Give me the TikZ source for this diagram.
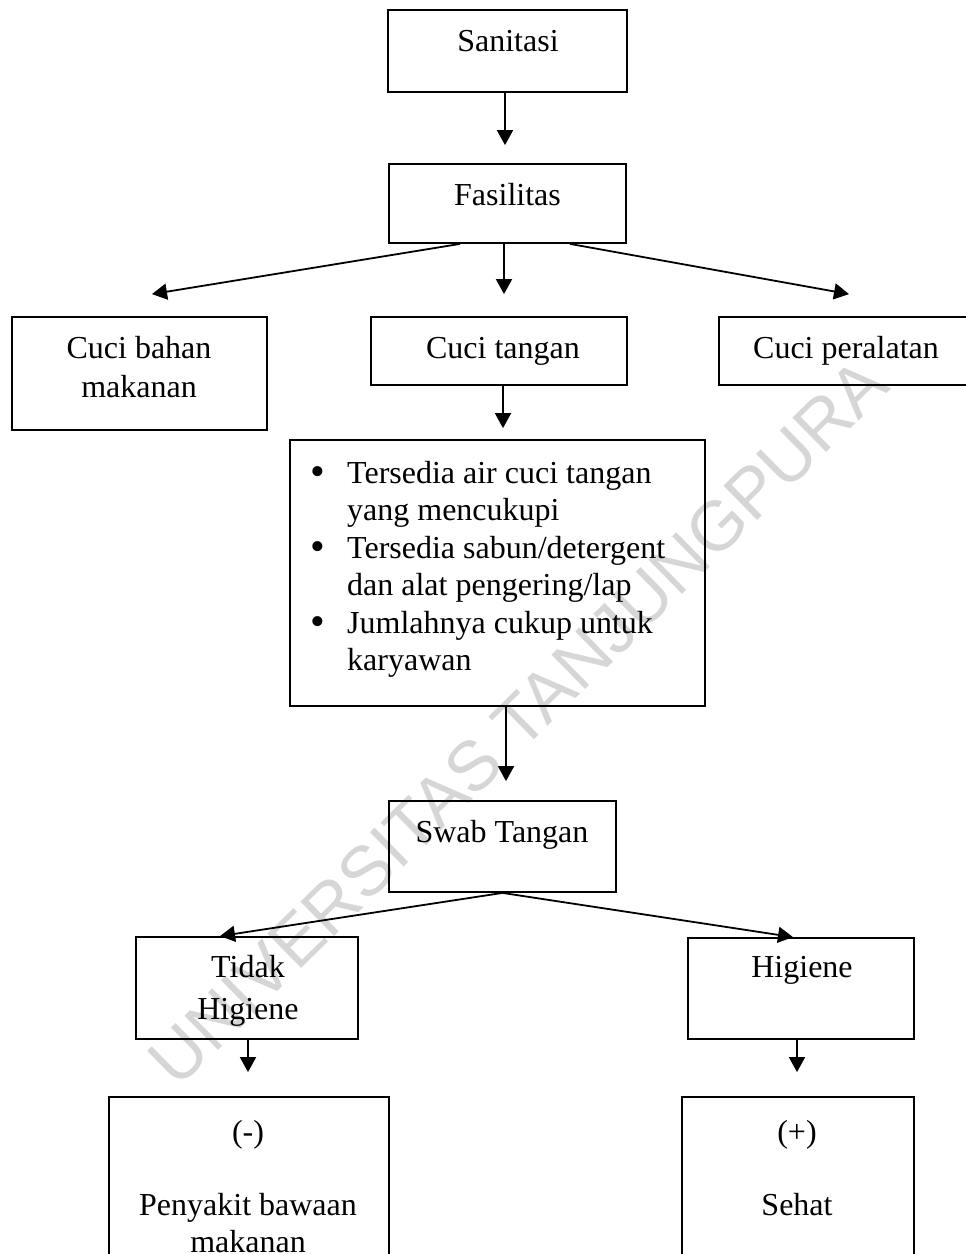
\documentclass[tikz,border=0pt]{standalone}
\usepackage{fontspec}
\setmainfont{Liberation Serif}
\newfontfamily\wmfont{Liberation Sans}
\usetikzlibrary{arrows.meta}

\tikzset{
	kotak/.style={draw, line width=1.8pt, inner sep=0pt},
	teks/.style={inner sep=0pt, font=\fontsize{32}{37.5}\selectfont},
	panah/.style={line width=1.8pt, -{Triangle[length=15pt, width=16pt]}},
	wmteks/.style={inner sep=0pt, text=black!16, font=\wmfont\fontsize{70}{70}\selectfont}
}
\newcommand{\butir}{\llap{\raisebox{-2.5pt}{\fontsize{42}{42}\selectfont\textbullet}\hspace{22pt}}}

\begin{document}
\begin{tikzpicture}[x=1pt, y=-1pt]
	\useasboundingbox (0,0) rectangle (966,1254);
	% watermark
	\node[wmteks, rotate=44.5] (wm) at (518,722) {UNIVERSITAS TANJUNGPURA};
	% kotak
	\node[kotak, minimum width=239pt, minimum height=82pt] (san) at (507.5,51) {};
	\node[kotak, minimum width=237pt, minimum height=79pt] (fas) at (507.5,203.5) {};
	\node[kotak, minimum width=255pt, minimum height=113pt] (bahan) at (139.5,373.5) {};
	\node[kotak, minimum width=256pt, minimum height=68pt] (tangan) at (499,351) {};
	\node[kotak, minimum width=256pt, minimum height=68pt] (alat) at (847,351) {};
	\node[kotak, minimum width=415pt, minimum height=266pt] (daftar) at (497.5,573) {};
	\node[kotak, minimum width=227pt, minimum height=91pt] (swab) at (502.5,846.5) {};
	\node[kotak, minimum width=222pt, minimum height=102pt] (tidak) at (247,988) {};
	\node[kotak, minimum width=226pt, minimum height=101pt] (hig) at (801,988.5) {};
	\node[kotak, minimum width=280pt, minimum height=193pt] (sakit) at (249,1193.5) {};
	\node[kotak, minimum width=232pt, minimum height=193pt] (sehat) at (798,1193.5) {};
	% teks
	\node[teks, anchor=base] (sanT) at (508,51) {Sanitasi};
	\node[teks, anchor=base] (fasT) at (507.5,205) {Fasilitas};
	\node[teks, anchor=north, align=center, font=\fontsize{32}{39}\selectfont] (bahanT) at (139,336) {Cuci bahan\\makanan};
	\node[teks, anchor=base] (tanganT) at (503,358) {Cuci tangan};
	\node[teks, anchor=base] (alatT) at (846,358) {Cuci peralatan};
	\node[teks, anchor=north west, align=left, font=\fontsize{32}{37.4}\selectfont] (daftarT) at (347,461)
		{\butir Tersedia air cuci tangan\\yang mencukupi\\\butir Tersedia sabun/detergent\\dan alat pengering/lap\\\butir Jumlahnya cukup untuk\\karyawan};
	\node[teks, anchor=base] (swabT) at (502,842) {Swab Tangan};
	\node[teks, anchor=north, align=center, font=\fontsize{32}{42}\selectfont] (tidakT) at (248,955) {Tidak\\Higiene};
	\node[teks, anchor=base] (higT) at (802,977) {Higiene};
	\node[teks, anchor=north, align=center] (sakitT) at (248,1120) {(-)\\[35.5pt]Penyakit bawaan\\makanan};
	\node[teks, anchor=north, align=center] (sehatT) at (797,1120) {(+)\\[35.5pt]Sehat};
	% panah
	\draw[panah] ([xshift=-2.5pt]san.south) -- ([xshift=-2.5pt, yshift=18pt]fas.north);
	\draw[panah] ([xshift=-3.5pt]fas.south) -- ([xshift=5pt, yshift=22pt]tangan.north);
	\draw[panah] ([xshift=-47.5pt]fas.south) -- ([xshift=12.5pt, yshift=22pt]bahan.north);
	\draw[panah] ([xshift=62.5pt]fas.south) -- ([xshift=2pt, yshift=22pt]alat.north);
	\draw[panah] ([xshift=4pt]tangan.south) -- ([xshift=5.5pt, yshift=11pt]daftar.north);
	\draw[panah] ([xshift=8.5pt]daftar.south) -- ([xshift=3.5pt, yshift=19pt]swab.north);
	\draw[panah] (swab.south) -- ([xshift=-27pt]tidak.north);
	\draw[panah] (swab.south) -- ([xshift=-8pt]hig.north);
	\draw[panah] ([xshift=1pt]tidak.south) -- ([xshift=-1pt, yshift=24pt]sakit.north);
	\draw[panah] ([xshift=-4pt]hig.south) -- ([xshift=-1pt, yshift=24pt]sehat.north);
\end{tikzpicture}
\end{document}
